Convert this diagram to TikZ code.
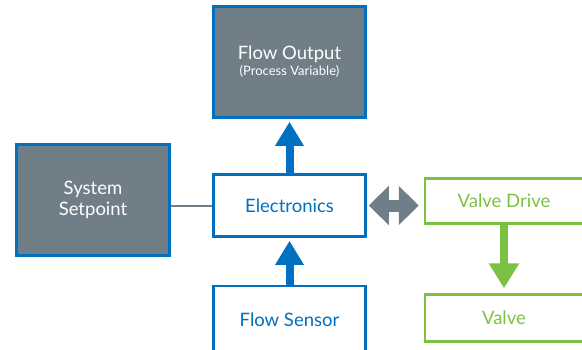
\documentclass[tikz,border=0pt]{standalone}
\usepackage{fontspec}
\setmainfont{Lato}
\usepackage{tikz}
\usetikzlibrary{arrows,arrows.meta}

\definecolor{boxblue}{RGB}{0,112,192}
\definecolor{boxgray}{RGB}{111,126,135}
\definecolor{boxgreen}{RGB}{124,194,66}

\begin{document}
\begin{tikzpicture}[%
		x=1pt, y=-1pt,
		font=\fontsize{18.5}{21}\selectfont,
		bluebox/.style={draw=boxblue, line width=2.5pt, text=boxblue, align=center, inner sep=0pt},
		graybox/.style={bluebox, fill=boxgray, text=white},
		greenbox/.style={draw=boxgreen, line width=2.5pt, text=boxgreen, align=center, inner sep=0pt},
		bluearrow/.style={draw=boxblue, line width=8pt, -{Triangle[width=27pt,length=24pt]}},
		greenarrow/.style={draw=boxgreen, line width=8pt, -{Triangle[width=29pt,length=25pt]}},
		grayarrow/.style={draw=boxgray, line width=12pt, {Triangle[width=38pt,length=20pt]}-{Triangle[width=38pt,length=20pt]}}
		]

		%% Rahmen
		\useasboundingbox (0,0) rectangle (582,349);
		\clip (0,0) rectangle (582,349);

		%% Bloecke
		\node[graybox, minimum width=152pt, minimum height=111pt] (flowout) at (289.5,62)
			{Flow Output\\[-5pt]{\fontsize{13}{15}\selectfont (Process Variable)}};
		\node[graybox, minimum width=153pt, minimum height=111pt] (setpoint) at (93,200)
			{System\\Setpoint};
		\node[bluebox, minimum width=152pt, minimum height=62pt] (electronics) at (289.5,205.5)
			{Electronics};
		\node[bluebox, minimum width=152pt, minimum height=68pt] (sensor) at (289.5,320)
			{Flow Sensor};
		\node[greenbox, minimum width=158pt, minimum height=45pt] (valvedrive) at (504,201)
			{Valve Drive};
		\node[greenbox, minimum width=158pt, minimum height=47pt] (valve) at (504,318)
			{Valve};

		%% Verbindungen
		\draw[boxgray, line width=2pt] (setpoint.east |- electronics.west) -- (electronics.west);
		\draw[bluearrow, shorten >=3pt] (electronics.north) -- (flowout.south);
		\draw[bluearrow, shorten >=3pt] (sensor.north) -- (electronics.south);
		\draw[grayarrow, shorten <=2pt, shorten >=5pt] (electronics.east) -- (electronics.east -| valvedrive.west);
		\draw[greenarrow, shorten >=5pt] (valvedrive.south) -- (valve.north);

	\end{tikzpicture}
\end{document}
